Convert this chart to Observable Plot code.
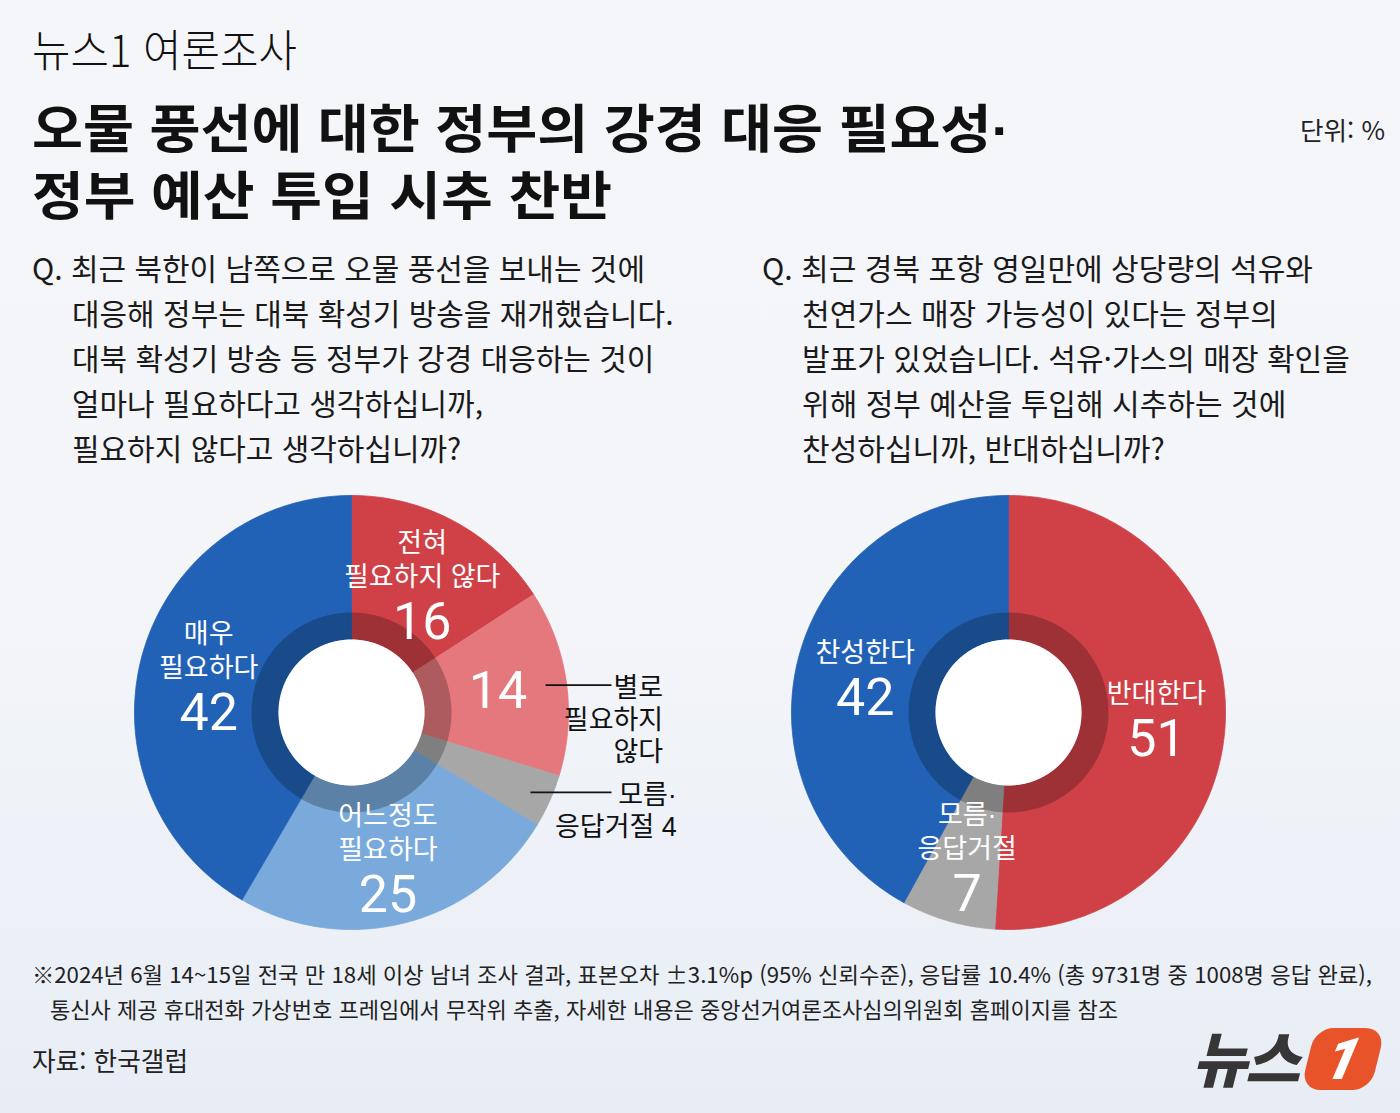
<!DOCTYPE html>
<html lang="ko">
<head>
<meta charset="utf-8">
<script src="https://cdn.jsdelivr.net/npm/d3@7"></script>
<script src="https://cdn.jsdelivr.net/npm/@observablehq/plot@0.6"></script>
<style>
html,body{margin:0;padding:0}
body{width:1400px;height:1113px;overflow:hidden;position:relative;
 background:linear-gradient(180deg,#f5f6fa 0%,#f3f5f9 55%,#e8edf5 100%);
 font-family:"Noto Sans CJK KR","Noto Sans",sans-serif;color:#111}
.t{position:absolute;white-space:nowrap;transform-origin:0 0}
.ref{display:inline-block}
.ttl{font-family:"Liberation Sans","Noto Sans CJK KR",sans-serif;font-size:52px;line-height:64px;font-weight:700}
#chart{position:absolute;left:0;top:470px}
#logo{position:absolute;left:1192px;top:1024px;width:200px;height:72px}
#logo .nw{position:absolute;left:0;top:-4px;font-size:60px;font-weight:900;font-style:italic;color:#363636;letter-spacing:-2px;line-height:72px;transform-origin:0 0}
#logo .one{position:absolute;left:116px;top:4px;width:70px;height:62px;background:#e8532a;border-radius:18px 20px 18px 20px;transform:skewX(-14deg);color:#fff;font:italic 900 58px/62px Roboto,"Noto Sans",sans-serif;text-align:center}
</style>
</head>
<body>
<div id="kicker" class="t" data-w="265" style="left:32px;top:20px;font-size:44px;line-height:56px;font-weight:300"><span class="ref">뉴스1 여론조사</span></div>
<div class="t ttl" data-w="978" style="left:32px;top:98px"><span class="ref">오물 풍선에 대한 정부의 강경 대응 필요성·</span></div>
<div class="t ttl" data-w="580" style="left:32px;top:165px"><span class="ref">정부 예산 투입 시추 찬반</span></div>
<div class="t" data-w="85" style="left:1300px;top:114px;font-size:25px;line-height:30px;color:#222"><span class="ref">단위: %</span></div>

<div class="t" data-w="613" data-indent="40" style="left:32px;top:245px;font-size:30px;line-height:45px;color:#1a1a1a">
<div><span class="ref">Q. 최근 북한이 남쪽으로 오물 풍선을 보내는 것에</span></div>
<div class="ind">대응해 정부는 대북 확성기 방송을 재개했습니다.</div>
<div class="ind">대북 확성기 방송 등 정부가 강경 대응하는 것이</div>
<div class="ind">얼마나 필요하다고 생각하십니까,</div>
<div class="ind">필요하지 않다고 생각하십니까?</div>
</div>
<div class="t" data-w="551" data-indent="40" style="left:762px;top:245px;font-size:30px;line-height:45px;color:#1a1a1a">
<div><span class="ref">Q. 최근 경북 포항 영일만에 상당량의 석유와</span></div>
<div class="ind">천연가스 매장 가능성이 있다는 정부의</div>
<div class="ind">발표가 있었습니다. 석유·가스의 매장 확인을</div>
<div class="ind">위해 정부 예산을 투입해 시추하는 것에</div>
<div class="ind">찬성하십니까, 반대하십니까?</div>
</div>

<div id="chart"></div>

<div class="t" data-w="1340" style="left:32px;top:956px;font-size:22px;line-height:35px;color:#222"><span class="ref">※2024년 6월 14~15일 전국 만 18세 이상 남녀 조사 결과, 표본오차 ±3.1%p (95% 신뢰수준), 응답률 10.4% (총 9731명 중 1008명 응답 완료),</span></div>
<div class="t" data-w="1068" style="left:50px;top:991px;font-size:22px;line-height:35px;color:#222"><span class="ref">통신사 제공 휴대전화 가상번호 프레임에서 무작위 추출, 자세한 내용은 중앙선거여론조사심의위원회 홈페이지를 참조</span></div>
<div class="t" data-w="156" style="left:32px;top:1044px;font-size:26px;line-height:32px;color:#222"><span class="ref">자료: 한국갤럽</span></div>

<div id="logo"><div class="nw t" data-w="106" style="left:0;top:-4px"><span class="ref">뉴스</span></div><div class="one">1</div></div>

<script>
// ---------- data ----------
const q1Categories = ["전혀 필요하지 않다", "별로 필요하지 않다", "모름·응답거절", "어느정도 필요하다", "매우 필요하다"];
const q1Values = [16, 14, 4, 25, 42];
const q1Names = ["전혀\n필요하지 않다", "별로\n필요하지\n않다", "모름·\n응답거절", "어느정도\n필요하다", "매우\n필요하다"];
const q1LabelModes = ["inside", "split", "outside", "inside", "inside"];
const q1Colors = ["#cf4147", "#e5787d", "#a7a7a7", "#7aaadb", "#2262b6"];

const q2Categories = ["반대한다", "모름·응답거절", "찬성한다"];
const q2Values = [51, 7, 42];
const q2Names = ["반대한다", "모름·\n응답거절", "찬성한다"];
const q2LabelModes = ["inside", "inside", "inside"];
const q2Colors = ["#cf4147", "#a7a7a7", "#2262b6"];

// ---------- layout ----------
const L = {
  width: 1400, top: 470, height: 490,
  R: 217, ringR: 100, holeR: 73,
  labelR: 148, leaderR: 196, leaderX: 260,
  nameSize: 27, numSize: 52, nameLH: 34, numGap: 45, outLH: 32,
  squeeze: 0.9, numSqueeze: 0.8
};
const donuts = [
  {cx: 351, cy: 712, cats: q1Categories, values: q1Values, names: q1Names, modes: q1LabelModes, colors: q1Colors},
  {cx: 1008, cy: 712, cats: q2Categories, values: q2Values, names: q2Names, modes: q2LabelModes, colors: q2Colors}
];

const pt = (cx, cy, r, a) => ({x: cx + r * Math.sin(a), y: cy - r * Math.cos(a)});
function arc(cx, cy, r, a0, a1) {
  const n = Math.max(6, Math.ceil(Math.abs(a1 - a0) / (Math.PI / 240)));
  return d3.range(n + 1).map(k => pt(cx, cy, r, a0 + (a1 - a0) * k / n));
}
function sector(cx, cy, r0, r1, a0, a1) {
  const p = arc(cx, cy, r1, a0, a1).concat(arc(cx, cy, r0, a1, a0));
  p.push(p[0]);
  return p;
}

const ctx = document.createElement("canvas").getContext("2d");
ctx.font = `400 ${L.nameSize}px "Noto Sans CJK KR"`;

const sliceRows = [], ringRows = [], holeRows = [];
const inNames = [], inNums = [], outNames = [], leaders = [];

donuts.forEach((dn, di) => {
  const rows = dn.cats.map((c, i) => ({cat: c, value: dn.values[i], name: dn.names[i], mode: dn.modes[i], color: dn.colors[i]}));
  const arcs = d3.pie().sort(null).value(d => d.value)(rows);
  arcs.forEach((a, i) => {
    const id = `d${di}s${i}`;
    sector(dn.cx, dn.cy, L.holeR, L.R, a.startAngle, a.endAngle)
      .forEach(p => sliceRows.push({id, color: a.data.color, ...p}));
    const mid = (a.startAngle + a.endAngle) / 2;
    const lines = a.data.name.split("\n");
    const n = lines.length;
    const anc = pt(dn.cx, dn.cy, L.labelR, mid);
    if (a.data.mode === "inside") {
      const S = (n - 1) * L.nameLH + L.numGap;
      const first = anc.y - S / 2;
      lines.forEach((ln, k) => inNames.push({x: anc.x, y: first + k * L.nameLH, text: ln}));
      inNums.push({x: anc.x, y: anc.y + S / 2, text: String(a.data.value)});
    } else {
      if (a.data.mode === "split") inNums.push({x: anc.x, y: anc.y, text: String(a.data.value)});
      const s = pt(dn.cx, dn.cy, L.leaderR, mid);
      const ex = dn.cx + L.leaderX;
      leaders.push({x1: s.x, y1: s.y, x2: ex, y2: s.y});
      const txtLines = lines.slice();
      if (a.data.mode === "outside") txtLines[n - 1] = txtLines[n - 1] + " " + a.data.value;
      const w = ctx.measureText(lines[0]).width * L.squeeze;
      const y0 = s.y + 3;
      txtLines.forEach((ln, k) => outNames.push({x: ex + 7 + w, y: y0 + k * L.outLH, text: ln}));
    }
  });
  sector(dn.cx, dn.cy, L.holeR, L.ringR, 0, 2 * Math.PI).forEach(p => ringRows.push({id: `ring${di}`, ...p}));
  arc(dn.cx, dn.cy, L.holeR, 0, 2 * Math.PI).forEach(p => holeRows.push({id: `hole${di}`, ...p}));
});

// Latin primary font keeps the line box compact; Hangul glyphs come from Noto Sans CJK KR
const FONT_LABEL = '"Liberation Sans", "Noto Sans CJK KR", sans-serif';
const FONT_NUM = 'Roboto, "Noto Sans", sans-serif';

const svg = Plot.plot({
  width: L.width, height: L.height,
  margin: 0,
  x: {domain: [0, L.width], range: [0, L.width], axis: null},
  y: {domain: [L.top, L.top + L.height], range: [0, L.height], axis: null},
  color: {type: "identity"},
  style: {background: "transparent", overflow: "visible", fontFamily: FONT_LABEL},
  marks: [
    Plot.line(sliceRows, {x: "x", y: "y", z: "id", fill: "color", stroke: "color", strokeWidth: 0.8, curve: "linear"}),
    Plot.line(ringRows, {x: "x", y: "y", z: "id", fill: "black", fillOpacity: 0.24, stroke: "none", curve: "linear"}),
    Plot.line(holeRows, {x: "x", y: "y", z: "id", fill: "white", stroke: "none", curve: "linear"}),
    Plot.link(leaders, {x1: "x1", y1: "y1", x2: "x2", y2: "y2", stroke: "#111", strokeWidth: 1.6}),
    Plot.text(inNames, {x: "x", y: "y", text: "text", fill: "white", fontSize: L.nameSize,
      textAnchor: "middle", lineAnchor: "middle", fontFamily: FONT_LABEL, ariaLabel: "slice-name"}),
    Plot.text(inNums, {x: "x", y: "y", text: "text", fill: "white", fontSize: L.numSize, fontWeight: 400,
      textAnchor: "middle", lineAnchor: "middle", fontFamily: FONT_NUM, ariaLabel: "slice-number"}),
    Plot.text(outNames, {x: "x", y: "y", text: "text", fill: "#111", fontSize: L.nameSize,
      textAnchor: "end", lineAnchor: "middle", fontFamily: FONT_LABEL, ariaLabel: "outside-name"})
  ]
});

function squeezeText(root, label, s) {
  d3.select(root).selectAll(`g[aria-label="${label}"] text`).each(function() {
    const t = this.getAttribute("transform");
    if (t) this.setAttribute("transform", `${t} scale(${s},1)`);
    else {
      const x = +this.getAttribute("x") || 0, y = +this.getAttribute("y") || 0;
      this.removeAttribute("x"); this.removeAttribute("y");
      this.setAttribute("transform", `translate(${x},${y}) scale(${s},1)`);
    }
  });
}
squeezeText(svg, "slice-name", L.squeeze);
squeezeText(svg, "outside-name", L.squeeze);
squeezeText(svg, "slice-number", L.numSqueeze);
document.getElementById("chart").appendChild(svg);

// fit HTML text lines to the reference widths
document.querySelectorAll(".t[data-w]").forEach(el => {
  const ref = el.querySelector(".ref") || el;
  const w = ref.getBoundingClientRect().width;
  const s = +el.dataset.w / w;
  el.style.transform = `scaleX(${s})`;
  if (el.dataset.indent) el.querySelectorAll(".ind").forEach(d => d.style.paddingLeft = (+el.dataset.indent / s) + "px");
});
</script>
</body>
</html>
